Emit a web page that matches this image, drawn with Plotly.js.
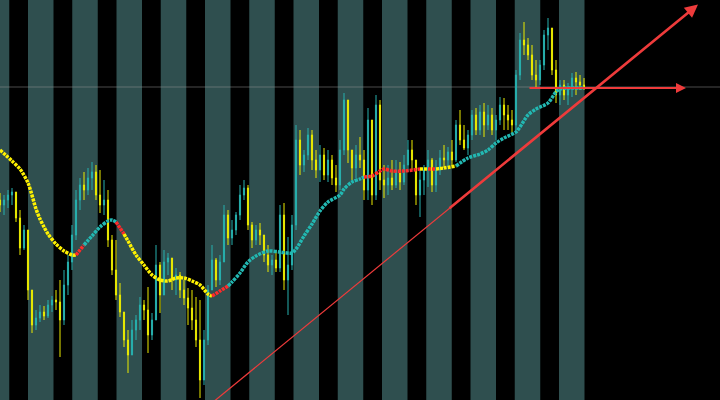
<!DOCTYPE html>
<html>
<head>
<meta charset="utf-8">
<script src="https://cdn.plot.ly/plotly-3.0.1.min.js"></script>
<style>
  html, body { margin: 0; padding: 0; background: #000; }
  #chart { width: 720px; height: 400px; }
</style>
</head>
<body>
<div id="chart"></div>
<script>
// Price bars (one per bar index); each bar opens at the previous close.
const firstOpen = 200;
const closes = [
  195,200,205,208,182,152,170,110,75,82,
  88,84,95,100,98,80,115,138,165,200,
  215,210,222,228,205,195,200,160,130,105,
  88,60,45,70,80,95,90,65,80,135,
  105,138,142,120,125,110,102,92,80,60,
  20,60,110,140,120,138,185,162,170,185,
  205,212,175,160,170,165,145,135,140,132,
  185,120,135,175,260,235,245,265,240,230,
  245,225,240,222,215,250,300,250,232,245,
  240,210,280,205,295,220,215,222,215,230,
  218,235,250,240,205,220,230,240,215,230,
  242,240,248,240,275,260,252,265,285,270,
  288,275,285,270,280,295,285,280,275,325,
  360,355,345,325,320,335,365,372,330,305,
  315,305,312,322,318,315,313
];
const highs = [
  207,205,210,212,205,190,175,167,100,90,
  95,94,100,104,110,120,130,145,175,210,
  222,228,232,238,235,230,220,210,165,160,
  117,87,70,80,85,103,100,113,87,155,
  138,150,147,138,132,128,120,112,110,103,
  100,70,115,155,142,145,195,190,180,188,
  215,220,215,178,175,177,162,155,145,150,
  195,197,163,185,275,270,250,272,270,250,
  255,252,250,245,235,260,307,300,250,255,
  263,250,292,275,305,300,235,235,240,240,
  238,245,260,260,240,230,235,250,242,240,
  250,255,253,260,280,290,275,270,290,292,
  295,297,295,292,285,303,302,295,290,330,
  367,378,362,355,340,340,370,382,370,340,
  320,320,317,327,328,325,322
];
const lows = [
  188,185,192,195,178,145,150,100,67,70,
  78,80,82,88,90,43,75,105,130,160,
  190,200,205,210,200,187,185,153,125,100,
  83,53,27,50,60,70,80,47,60,80,
  87,110,125,110,105,102,95,75,70,53,
  2,15,55,110,113,115,140,155,155,165,
  180,200,170,152,155,155,138,128,125,128,
  128,110,85,130,170,225,228,240,230,222,
  218,220,218,215,208,210,245,237,220,222,
  232,200,200,195,200,210,202,205,210,212,
  210,215,228,230,195,183,205,213,208,208,
  225,232,233,235,238,255,250,245,260,265,
  265,263,270,265,260,275,270,270,267,270,
  320,345,340,320,313,315,330,350,325,297,
  295,300,295,303,305,310,310
];

// Moving average samples: bar index, value, and direction of the
// stretch that starts at that sample (d = falling, u = rising, f = flat).
const maBars = [0,3,5,7,9,10,11,12,14,16,18,19,20,21,23,25,27,28,29,30,31,32,34,36,38,40,42,44,46,48,50,52,53,55,57,58,60,62,64,67,70,73,74,76,78,80,82,85,86,88,90,91,93,95,96,98,101,105,107,109,111,114,117,120,122,124,126,129,130,132,134,137,139,140,142,146];
const maValues = [250,239,231,217,191,181,173,166,156,149,145,145,150,155,164,173,179,180,178,172,166,159,145,135,125,120,119,122,122,119,115,106,104,109,114,118,127,138,144,149,148,147,151,164,176,189,198,205,211,218,221,223,224,229,231,229,229,231,231,231,232,234,242,246,250,257,262,268,273,285,291,297,308,311,312,312];
const maDirection = ['d','d','d','d','d','d','d','d','d','d','d','f','f','u','u','u','u','u','f','f','d','d','d','d','d','d','d','d','d','d','d','d','f','f','u','u','u','u','u','u','u','u','u','u','u','u','u','u','u','u','u','f','f','f','f','f','f','d','f','d','d','u','u','u','u','u','u','u','u','u','u','u','u','u','u','u'];

// Support trend line through two anchors, and the horizontal level.
const trendBars = [60, 146];
const trendPrices = [20, 302];
const levelPrice = 312;

const COL_UP = '#27B0AE';
const COL_DN = '#EBEB00';
const MA_COL = { d: '#FFF200', u: '#22B8B2', f: '#FF2A2A' };
const RED = '#EE3B3B';

const opens = closes.map((c, i) => (i === 0 ? firstOpen : closes[i - 1]));
const hi = highs.map((h, i) => Math.max(h, opens[i], closes[i]));
const lo = lows.map((l, i) => Math.min(l, opens[i], closes[i]));
const barX = closes.map((_, i) => i);

const trendAt = b => trendPrices[0] + (b - trendBars[0]) * (trendPrices[1] - trendPrices[0]) / (trendBars[1] - trendBars[0]);

const traces = [];

// Thin trend line under everything else
traces.push({
  type: 'scatter', mode: 'lines',
  x: [50, 148], y: [trendAt(50), trendAt(148)],
  line: { color: RED, width: 1.2 }, hoverinfo: 'skip'
});

traces.push({
  type: 'candlestick',
  x: barX, open: opens, high: hi, low: lo, close: closes,
  increasing: { line: { color: COL_UP, width: 1 }, fillcolor: COL_UP },
  decreasing: { line: { color: COL_DN, width: 1 }, fillcolor: COL_DN },
  whiskerwidth: 0, hoverinfo: 'skip'
});

// Moving average split into coloured stretches
let start = 0;
for (let i = 1; i < maBars.length; i++) {
  const endRun = i === maBars.length - 1 || maDirection[i] !== maDirection[start];
  if (endRun) {
    traces.push({
      type: 'scatter', mode: 'lines',
      x: maBars.slice(start, i + 1), y: maValues.slice(start, i + 1),
      line: { color: MA_COL[maDirection[start]], width: 3.5, dash: '3px,1px', shape: 'spline', smoothing: 0.8 },
      hoverinfo: 'skip'
    });
    start = i;
  }
}

// Session bands
const sessionFirst = -4.0625, sessionPeriod = 11.0625, sessionSpan = 6.375, sessionCount = 14;
const shapes = [];
for (let k = 0; k < sessionCount; k++) {
  const x0 = sessionFirst + k * sessionPeriod;
  shapes.push({
    type: 'rect', xref: 'x', yref: 'paper', x0: x0, x1: x0 + sessionSpan, y0: 0, y1: 1,
    fillcolor: '#2F4F4F', line: { width: 0 }, layer: 'below'
  });
}
// Last price line
shapes.push({
  type: 'line', xref: 'paper', yref: 'y', x0: 0, x1: 1,
  y0: closes[closes.length - 1], y1: closes[closes.length - 1],
  line: { color: 'rgba(150,150,150,0.5)', width: 1 }, layer: 'below'
});

const annotations = [
  {
    xref: 'x', yref: 'y', axref: 'x', ayref: 'y',
    x: 174.5, y: trendAt(174.5), ax: 112, ay: trendAt(112),
    text: '', showarrow: true, arrowhead: 2, arrowsize: 1, arrowwidth: 2.6, arrowcolor: RED
  },
  {
    xref: 'x', yref: 'y', axref: 'x', ayref: 'y',
    x: 171.5, y: levelPrice, ax: 132, ay: levelPrice,
    text: '', showarrow: true, arrowhead: 2, arrowsize: 1, arrowwidth: 2, arrowcolor: RED
  }
];

const hiddenAxis = { showgrid: false, zeroline: false, showticklabels: false, ticks: '', showline: false };

const layout = {
  width: 720, height: 400,
  margin: { l: 0, r: 0, t: 0, b: 0 },
  paper_bgcolor: '#000', plot_bgcolor: '#000',
  showlegend: false,
  boxgap: 0.6,
  xaxis: Object.assign({ range: [0, 180], rangeslider: { visible: false } }, hiddenAxis),
  yaxis: Object.assign({ range: [0, 400] }, hiddenAxis),
  shapes: shapes,
  annotations: annotations
};

Plotly.newPlot('chart', traces, layout, { staticPlot: true, displayModeBar: false });
</script>
</body>
</html>
